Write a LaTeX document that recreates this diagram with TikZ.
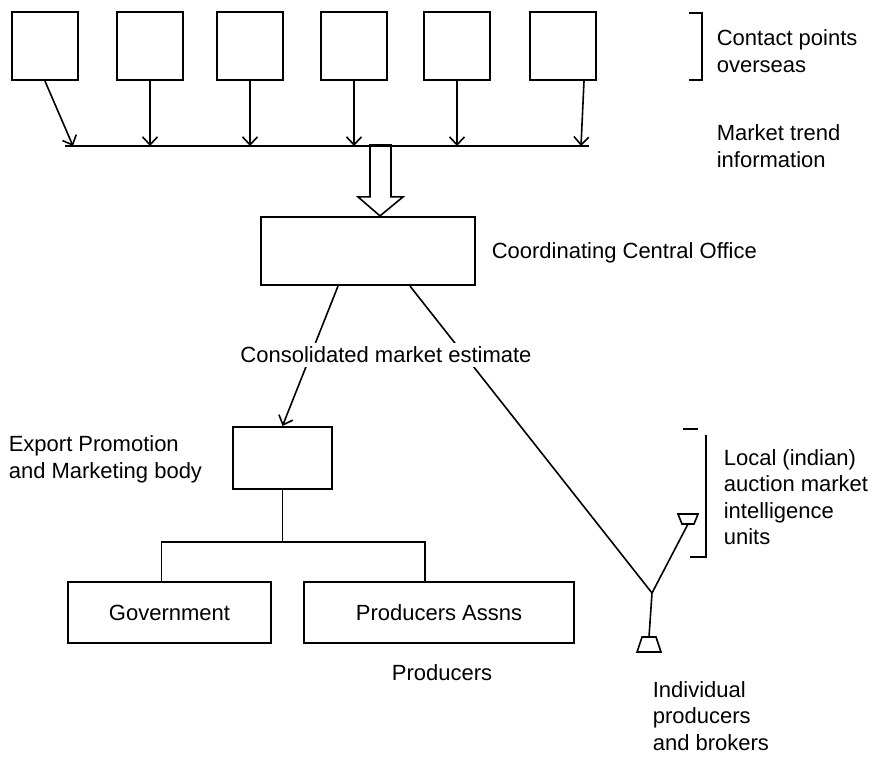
\documentclass[tikz,border=0pt]{standalone}
\usepackage{fontspec}
\setmainfont{Liberation Sans}
\usetikzlibrary{arrows.meta,calc}

\begin{document}
\begin{tikzpicture}
	[x=1pt, y=-1pt, line width=1.6pt,
	 box/.style={rectangle, draw, line width=2.2pt, inner sep=0pt,
		font=\fontsize{22}{26.5}\selectfont},
	 lbl/.style={font=\fontsize{22}{26.5}\selectfont, align=left, inner sep=3pt},
	 barb/.style={-{Straight Barb[length=8pt,width=15pt]}}]
	\useasboundingbox (0,0) rectangle (877,756);

	% contact points overseas
	\foreach \i/\x in {1/45,2/150,3/250,4/354,5/457,6/563}
		\node[box, minimum width=66pt, minimum height=68pt] (c\i) at (\x,46) {};
	\coordinate (busW) at (65,146);
	\coordinate (busE) at (589,146);
	\draw (busW) -- (busE);
	\draw[barb] (c1.south) -- (73,146) coordinate (b1);
	\foreach \i in {2,...,5}
		\draw[barb] (c\i.south) -- (c\i.south |- busW);
	\draw[barb] ($(c6.south)+(21,0)$) -- ($(c6.south |- busW)+(18,0)$);
	\draw (689,13) -- (702,13) -- (702,80) -- (689,80);
	\node[lbl, anchor=west] (cpo) at (713,51) {Contact points\\overseas};
	\node[lbl, anchor=west] (mti) at (713,146) {Market trend\\information};

	% central office
	\node[box, minimum width=214pt, minimum height=68pt] (cco) at (368,251) {};
	\node[lbl, anchor=west] (ccol) at (488,253) {Coordinating Central Office};
	\coordinate (tip) at ($(cco.north)+(12,0)$);
	\draw (tip) -- ++(-22,-19) -- ++(12,0) -- ++(0,-52) -- ++(21,0)
		-- ++(0,52) -- ++(12,0) -- cycle;

	% export promotion and producers
	\node[box, minimum width=99pt, minimum height=62pt] (epm) at (282.5,458) {};
	\node[lbl, anchor=west] (epml) at (5,459.5) {Export Promotion\\and Marketing body};
	\node[box, minimum width=203pt, minimum height=61pt] (gov) at (169.5,612.5) {Government};
	\node[box, minimum width=270pt, minimum height=61pt] (pa) at (439,612.5) {Producers Assns};
	\node[lbl] (prod) at (442,673) {Producers};
	\coordinate (split) at (epm.south |- 0,542);
	\draw (epm.south) -- (split);
	\draw ($(gov.north)+(-8,0)$) |- (split) -| ($(pa.north)+(-14,0)$);

	% local auction market units
	\coordinate (jn) at (652,593);
	\coordinate (au) at (688,524);
	\coordinate (ip) at (649,637);
	\draw (au) ++(-6,0) -- ++(12,0) -- ++(4,-10) -- ++(-20,0) -- cycle;
	\draw (ip) ++(-7,0) -- ++(14,0) -- ++(5,15) -- ++(-24,0) -- cycle;
	\draw (jn) -- (au);
	\draw (jn) -- (ip);
	\draw ($(cco.south)+(42,0)$) -- (jn);
	\draw (683,429) -- (698,429);
	\draw (706,435) -- (706,557) -- (690,557);
	\node[lbl, anchor=west] (lam) at (720,497) {Local (indian)\\auction market\\intelligence\\units};
	\node[lbl, anchor=west, inner sep=1pt] (ipb) at (651,716) {Individual\\producers\\and brokers};

	% estimate
	\draw[barb] ($(cco.south)+(-30,0)$) -- (epm.north);
	\node[lbl, fill=white, inner sep=4pt] (cme) at (386,355) {Consolidated market estimate};
\end{tikzpicture}
\end{document}
